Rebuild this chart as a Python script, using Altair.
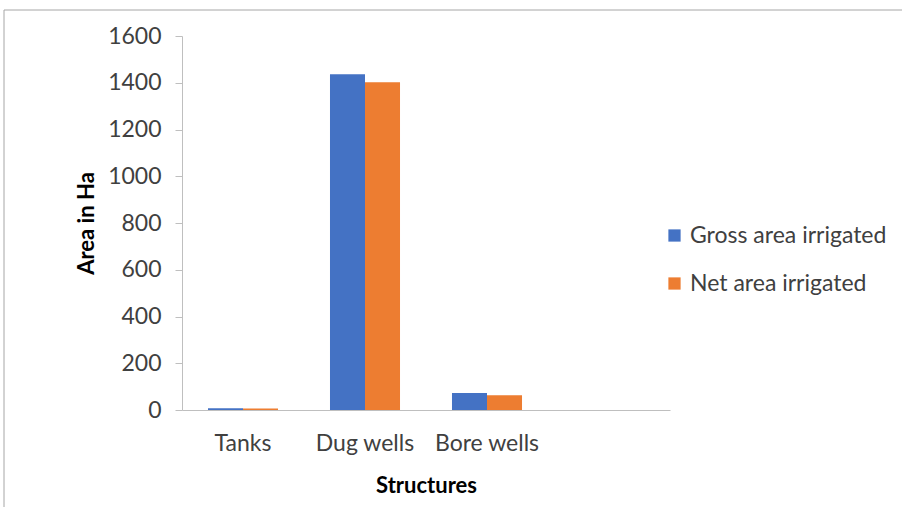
import altair as alt
import pandas as pd

categories = ["Tanks", "Dug wells", "Bore wells", " "]
gross = [8, 1436, 73]
net = [6, 1402, 63]
series = ["Gross area irrigated", "Net area irrigated"]

rows = []
for c, g, n in zip(categories[:3], gross, net):
    rows.append({"Structure": c, "Series": series[0], "Area": g})
    rows.append({"Structure": c, "Series": series[1], "Area": n})
df = pd.DataFrame(rows)

FONT = "Lato"

bars = alt.Chart(df).mark_bar().encode(
    x=alt.X("Structure:N", sort=categories,
            scale=alt.Scale(domain=categories, paddingInner=0.426, paddingOuter=0.213),
            axis=alt.Axis(title="Structures", labelAngle=0, ticks=False, labelPadding=22,
                          titlePadding=20, labelFontSize=23, titleFontSize=22,
                          titleFontWeight="bold", domainColor="#bfbfbf", labelColor="#404040",
                          titleColor="#000000", labelFont=FONT, titleFont=FONT)),
    xOffset=alt.XOffset("Series:N", sort=series),
    y=alt.Y("Area:Q", scale=alt.Scale(domain=[0, 1600], nice=False),
            axis=alt.Axis(title="Area in Ha", values=list(range(0, 1601, 200)), grid=False,
                          format="d", tickSize=7, tickColor="#bfbfbf", domainColor="#bfbfbf",
                          labelPadding=14, titlePadding=9, labelFontSize=23,
                          titleFontSize=22, titleFontWeight="bold", labelColor="#404040",
                          titleColor="#000000", labelFont=FONT, titleFont=FONT)),
    color=alt.Color("Series:N", sort=series,
                    scale=alt.Scale(domain=series, range=["#4472C4", "#ED7D31"]),
                    legend=alt.Legend(title=None, orient="none", legendX=481, legendY=188,
                                      symbolType="square", symbolSize=150, symbolStrokeWidth=0,
                                      labelFontSize=23, labelFont=FONT, labelColor="#404040",
                                      labelLimit=400, rowPadding=24, labelOffset=4)),
)

border = alt.Chart(pd.DataFrame({"a": [0]})).mark_rule(color="#a6a6a6", strokeWidth=1).encode(
    x=alt.value(-178), x2=alt.value(-178), y=alt.value(-26), y2=alt.value(500)
)
border_top = alt.Chart(pd.DataFrame({"a": [0]})).mark_rule(color="#a6a6a6", strokeWidth=1).encode(
    x=alt.value(-178), x2=alt.value(760), y=alt.value(-26)
)

chart = alt.layer(bars, border, border_top).properties(
    width=488, height=374,
    padding={"left": 182, "top": 36, "right": 232, "bottom": 97},
    autosize=alt.AutoSizeParams(type="none"),
    background="white",
).configure_view(stroke=None)

chart.save("out.html", embed_options={"renderer": "svg", "actions": False})
